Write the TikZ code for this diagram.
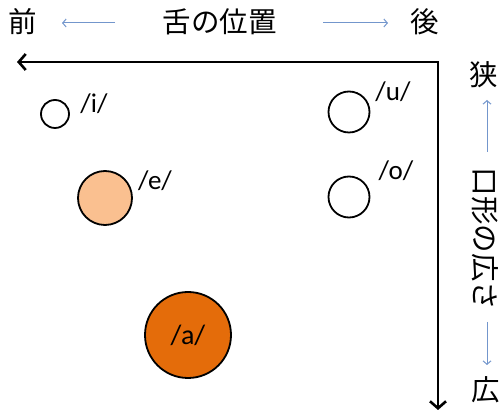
\documentclass[tikz,border=0pt]{standalone}
\usepackage{fontspec}
\setmainfont{Carlito}
\newfontfamily\jp{Noto Sans CJK JP}
\usetikzlibrary{arrows.meta}
\definecolor{lightor}{HTML}{FAC090}
\definecolor{darkor}{HTML}{E46C0A}
\definecolor{thinblue}{HTML}{7396CC}
\begin{document}
\begin{tikzpicture}[x=1pt,y=-1pt,
  jlab/.style={font=\jp\fontsize{28.5}{28.5}\selectfont, inner sep=0pt},
  vlab/.style={font=\fontsize{27}{27}\selectfont, inner sep=0pt},
  vowel/.style={circle, draw=black, line width=1.8pt, inner sep=0pt},
  thin/.style={draw=thinblue, line width=1pt, -{Straight Barb[length=3.5pt,width=8pt]}},
  axis/.style={line width=2.8pt, {Straight Barb[length=7pt,width=16pt,line width=2.6pt]}-{Straight Barb[length=7pt,width=16pt,line width=2.6pt]}}]
\useasboundingbox (0,0) rectangle (501,411);
% top labels
\node[jlab] (front) at (22.5,22) {前};
\node[jlab] (tongue) at (219.5,22) {舌の位置};
\node[jlab] (back) at (425,22) {後};
\coordinate (la1) at (115,23);
\coordinate (la2) at (62,23);
\coordinate (ra1) at (323,23);
\coordinate (ra2) at (388,23);
\draw[thin] (la1) -- (la2);
\draw[thin] (ra1) -- (ra2);
% right labels
\node[jlab] (narrow) at (484,75) {狭};
\node[jlab, rotate=-90] (mouth) at (485,239) {口形の広さ};
\node[jlab] (wide) at (486,390) {広};
\coordinate (ua1) at (487,152);
\coordinate (ua2) at (487,100);
\coordinate (da1) at (487,322);
\coordinate (da2) at (487,365);
\draw[thin] (ua1) -- (ua2);
\draw[thin] (da1) -- (da2);
% axes
\coordinate (axL) at (17,62);
\coordinate (axC) at (438,62);
\coordinate (axB) at (438,410);
\draw[axis] (axL) -- (axC) -- (axB);
% vowels
\node[vowel, minimum size=28pt] (i) at (55,114) {};
\node[vlab] (il) at (94,104) {/i/};
\node[vowel, minimum size=54pt, fill=lightor] (e) at (105,198) {};
\node[vlab] (el) at (155,181) {/e/};
\node[vowel, minimum size=41pt] (u) at (349,112) {};
\node[vlab] (ul) at (393,92) {/u/};
\node[vowel, minimum size=41pt] (o) at (349,197) {};
\node[vlab] (ol) at (396,171) {/o/};
\node[vowel, minimum size=86pt, fill=darkor, font=\fontsize{28}{28}\selectfont] (a) at (188,335) {/a/};
\end{tikzpicture}
\end{document}
